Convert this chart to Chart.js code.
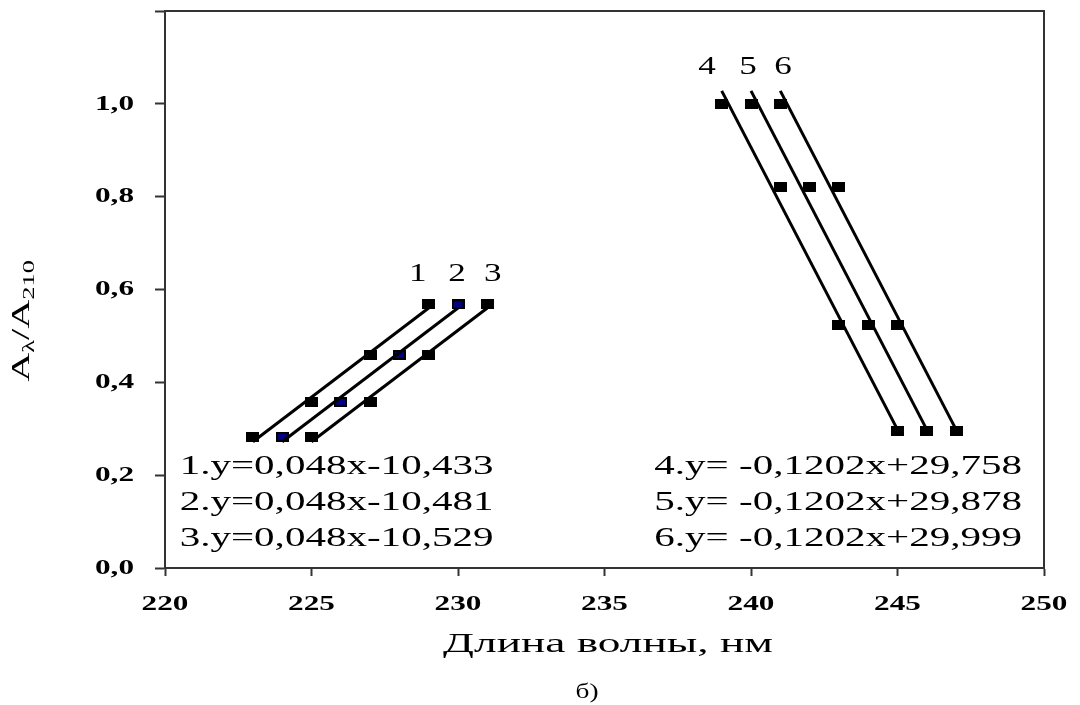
<!DOCTYPE html>
<html lang="ru">
<head>
<meta charset="UTF-8">
<title>Aλ/A210 — длина волны</title>
<style>
body {
    margin: 0;
    padding: 0;
    background: #fff;
}
#wrap {
    width: 1080px;
    height: 705px;
    position: relative;
}
</style>
</head>
<body>
<div id="wrap"><canvas id="chart"></canvas></div>

<script src="https://cdn.jsdelivr.net/npm/chart.js"></script>
<script>
// wavelengths for every series
const x1 = [223, 225, 227, 229];
const x2 = [224, 226, 228, 230];
const x3 = [225, 227, 229, 231];
const x4 = [239, 241, 243, 245];
const x5 = [240, 242, 244, 246];
const x6 = [241, 243, 245, 247];

// A(lambda)/A210
const yRising = [0.283, 0.358, 0.459, 0.568];
const yFalling = [1.0, 0.821, 0.524, 0.296];

// trend line ends (at the first and last wavelength of each series)
const trendRising = [0.272, 0.56];
const trendFalling = [1.028, 0.298];

// tick labels
const xTicks = [220, 225, 230, 235, 240, 245, 250];
const yTicks = ['0,0', '0,2', '0,4', '0,6', '0,8', '1,0'];

const leftEquations = [
    '1.y=0,048x-10,433',
    '2.y=0,048x-10,481',
    '3.y=0,048x-10,529'
];
const rightEquations = [
    '4.y= -0,1202x+29,758',
    '5.y= -0,1202x+29,878',
    '6.y= -0,1202x+29,999'
];

const SERIF = '"Liberation Serif", "Times New Roman", serif';

function zip(xs, ys) {
    return xs.map((x, i) => ({ x: x, y: ys[i] }));
}

// little oblong markers like the original
function makeMarker(inner) {
    const c = document.createElement('canvas');
    c.width = 13;
    c.height = 10;
    const g = c.getContext('2d');
    g.fillStyle = '#000';
    g.fillRect(0, 0, 13, 10);
    if (inner) {
        g.fillStyle = inner;
        g.fillRect(2, 2, 9, 6);
    }
    return c;
}
const blackMark = makeMarker(null);
const navyMark = makeMarker('#000080');

function points(label, xs, ys, mark) {
    return {
        label: label,
        data: zip(xs, ys),
        showLine: false,
        pointStyle: mark,
        pointRadius: 6,
        order: 2
    };
}

function trend(label, xs, ends) {
    return {
        label: label + ' trend',
        data: [{ x: xs[0], y: ends[0] }, { x: xs[xs.length - 1], y: ends[1] }],
        showLine: true,
        borderColor: '#000',
        borderWidth: 3,
        pointRadius: 0,
        fill: false,
        order: 1
    };
}

// text drawn with a horizontal stretch along the writing direction
function stretchText(ctx, text, x, y, align, font, sx) {
    ctx.save();
    ctx.font = font;
    ctx.translate(x, y);
    ctx.scale(sx, 1);
    ctx.textAlign = align;
    ctx.fillText(text, 0, 0);
    ctx.restore();
}

const textPlugin = {
    id: 'texts',
    afterDraw(chart) {
        const ctx = chart.ctx;
        const a = chart.chartArea;
        const xs = chart.scales.x;
        const ys = chart.scales.y;

        // frame top and right
        ctx.save();
        ctx.strokeStyle = '#333';
        ctx.lineWidth = 2;
        ctx.beginPath();
        ctx.moveTo(a.left, a.top);
        ctx.lineTo(a.right, a.top);
        ctx.lineTo(a.right, a.bottom);
        ctx.stroke();
        ctx.restore();

        ctx.fillStyle = '#000';
        ctx.textBaseline = 'middle';

        // tick labels
        const tickFont = 'bold 22px ' + SERIF;
        xTicks.forEach(v => {
            stretchText(ctx, String(v), xs.getPixelForValue(v), 604, 'center', tickFont, 1.42);
        });
        yTicks.forEach((t, i) => {
            stretchText(ctx, t, 134, ys.getPixelForValue(i * 0.2), 'right', tickFont, 1.42);
        });

        // series numbers
        const numFont = '26px ' + SERIF;
        [['1', 228.63], ['2', 229.97], ['3', 231.19]].forEach(p => {
            stretchText(ctx, p[0], xs.getPixelForValue(p[1]), ys.getPixelForValue(0.633), 'center', numFont, 1.35);
        });
        [['4', 238.5], ['5', 239.9], ['6', 241.09]].forEach(p => {
            stretchText(ctx, p[0], xs.getPixelForValue(p[1]), ys.getPixelForValue(1.08), 'center', numFont, 1.35);
        });

        // regression equations
        const eqFont = '27px ' + SERIF;
        const eqY = [0.218, 0.140, 0.063];
        leftEquations.forEach((t, i) => {
            stretchText(ctx, t, xs.getPixelForValue(220.5), ys.getPixelForValue(eqY[i]), 'left', eqFont, 1.52);
        });
        rightEquations.forEach((t, i) => {
            stretchText(ctx, t, xs.getPixelForValue(249.25), ys.getPixelForValue(eqY[i]), 'right', eqFont, 1.52);
        });

        // x axis title and caption
        ctx.textBaseline = 'alphabetic';
        stretchText(ctx, 'Длина волны, нм', 608, 652, 'center', '28px ' + SERIF, 1.62);
        stretchText(ctx, 'б)', 587, 698, 'center', '21px ' + SERIF, 1.3);

        // y axis title A_λ / A_210, rotated
        ctx.save();
        ctx.translate(20, 321);
        ctx.rotate(-Math.PI / 2);
        ctx.scale(1.55, 1);
        const big = '26px ' + SERIF;
        const small = '17px ' + SERIF;
        const parts = [['A', big, 0], ['λ', small, 5], ['/A', big, 0], ['210', small, 5]];
        let total = 0;
        parts.forEach(p => { ctx.font = p[1]; total += ctx.measureText(p[0]).width; });
        let cx = -total / 2;
        ctx.textAlign = 'left';
        ctx.textBaseline = 'alphabetic';
        parts.forEach(p => {
            ctx.font = p[1];
            ctx.fillText(p[0], cx, 9 + p[2]);
            cx += ctx.measureText(p[0]).width;
        });
        ctx.restore();
    }
};

const ctx = document.getElementById('chart').getContext('2d');
const chart = new Chart(ctx, {
    type: 'scatter',
    data: {
        datasets: [
            points('1', x1, yRising, blackMark),
            points('2', x2, yRising, navyMark),
            points('3', x3, yRising, blackMark),
            points('4', x4, yFalling, blackMark),
            points('5', x5, yFalling, blackMark),
            points('6', x6, yFalling, blackMark),
            trend('1', x1, trendRising),
            trend('2', x2, trendRising),
            trend('3', x3, trendRising),
            trend('4', x4, trendFalling),
            trend('5', x5, trendFalling),
            trend('6', x6, trendFalling)
        ]
    },
    options: {
        responsive: true,
        maintainAspectRatio: false,
        animation: false,
        events: [],
        layout: {
            padding: { left: 155, right: 36, top: 11, bottom: 129 }
        },
        plugins: {
            legend: { display: false },
            tooltip: { enabled: false }
        },
        scales: {
            x: {
                type: 'linear',
                min: 220,
                max: 250,
                ticks: { display: false, stepSize: 5 },
                grid: {
                    drawOnChartArea: false,
                    drawTicks: true,
                    tickLength: 8,
                    tickWidth: 2,
                    tickColor: '#333'
                },
                border: { display: true, color: '#333', width: 2 }
            },
            y: {
                type: 'linear',
                min: 0,
                max: 1.2,
                ticks: { display: false, stepSize: 0.2 },
                grid: {
                    drawOnChartArea: false,
                    drawTicks: true,
                    tickLength: 10,
                    tickWidth: 2,
                    tickColor: '#333'
                },
                border: { display: true, color: '#333', width: 2 }
            }
        }
    },
    plugins: [textPlugin]
});
</script>
</body>
</html>
